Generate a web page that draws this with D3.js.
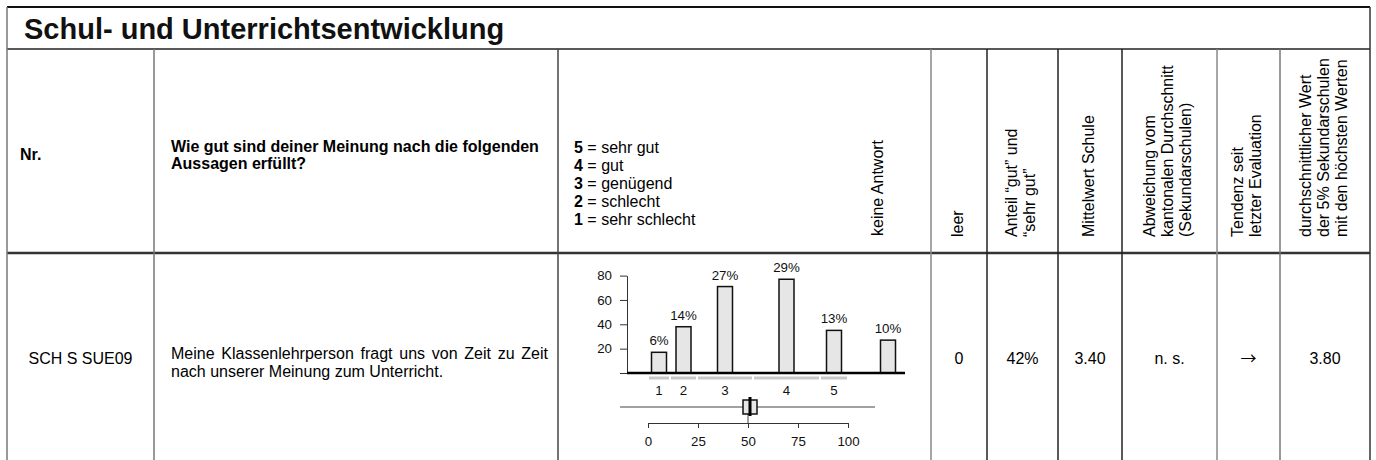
<!DOCTYPE html>
<html>
<head>
<meta charset="utf-8">
<script src="https://cdn.jsdelivr.net/npm/d3@7"></script>
<style>
  body { margin: 0; background: #fff; }
  svg { display: block; font-family: "Liberation Sans", Arial, sans-serif; }
</style>
</head>
<body>
<svg width="1376" height="460"></svg>
<script>
const title = "Schul- und Unterrichtsentwicklung";
const itemId = "SCH S SUE09";
const questionHead = ["Wie gut sind deiner Meinung nach die folgenden", "Aussagen erfüllt?"];
const itemText = ["Meine Klassenlehrperson fragt uns von Zeit zu Zeit", "nach unserer Meinung zum Unterricht."];
const scaleCodes = ["5", "4", "3", "2", "1"];
const scaleNames = ["sehr gut", "gut", "genügend", "schlecht", "sehr schlecht"];

// histogram
const categories = ["1", "2", "3", "4", "5"];
const counts = [17, 38, 71, 77, 35];
const percents = ["6%", "14%", "27%", "29%", "13%"];
const noAnswerLabel = "keine Antwort";
const noAnswerCount = 27;
const noAnswerPercent = "10%";
const cumShare = [0, 11, 24.5, 52.5, 86, 100];
const yTicks = [0, 20, 40, 60, 80];
const xTicks = [0, 25, 50, 75, 100];
const boxQ1 = 47.5, boxMedian = 51, boxQ3 = 54.5, meanMark = 50;

// stat columns
const statHeaders = [
  ["leer"],
  ["Anteil \u201cgut\u201d und", "\u201csehr gut\u201d"],
  ["Mittelwert Schule"],
  ["Abweichung vom", "kantonalen Durchschnitt", "(Sekundarschulen)"],
  ["Tendenz seit", "letzter Evaluation"],
  ["durchschnittlicher Wert", "der 5% Sekundarschulen", "mit den höchsten Werten"]
];
const statValues = ["0", "42%", "3.40", "n. s.", "\u2192", "3.80"];

const svg = d3.select("svg");
const W = 1376, H = 460;
const top0 = 7, titleY = 49, sepY = 253;
const colX = [7, 154, 558, 931, 987, 1058, 1122, 1217, 1280, 1370];
const colStroke = ["#777", "#777", "#444", "#888", "#222", "#222", "#222", "#888", "#777", "#333"];

svg.append("rect").attr("width", W).attr("height", H).attr("fill", "#fff");

// grid lines
svg.append("line").attr("x1", colX[0]).attr("x2", colX[9]).attr("y1", top0).attr("y2", top0)
  .attr("stroke", "#111").attr("stroke-width", 2);
svg.append("line").attr("x1", colX[0]).attr("x2", colX[9]).attr("y1", titleY).attr("y2", titleY)
  .attr("stroke", "#222").attr("stroke-width", 1.5);
svg.append("line").attr("x1", colX[0]).attr("x2", colX[9]).attr("y1", sepY).attr("y2", sepY)
  .attr("stroke", "#333").attr("stroke-width", 2.5);

svg.selectAll(".vline")
  .data(colX)
  .join("line")
  .attr("class", "vline")
  .attr("x1", d => d).attr("x2", d => d)
  .attr("y1", (d, i) => (i === 0 || i === 9) ? top0 : titleY)
  .attr("y2", H)
  .attr("stroke", (d, i) => colStroke[i])
  .attr("stroke-width", 1.5);

// title
svg.append("text")
  .attr("x", 24).attr("y", 39)
  .attr("font-size", 29).attr("font-weight", "bold")
  .attr("fill", "#111")
  .text(title);

// header row
svg.append("text").attr("x", 20).attr("y", 160)
  .attr("font-size", 16).attr("font-weight", "bold").text("Nr.");

svg.append("g").selectAll("text")
  .data(questionHead)
  .join("text")
  .attr("x", 171).attr("y", (d, i) => 152 + i * 17)
  .attr("font-size", 16).attr("font-weight", "bold")
  .text(d => d);

const legend = svg.append("g").selectAll("text")
  .data(scaleCodes)
  .join("text")
  .attr("x", 574).attr("y", (d, i) => 153 + i * 18)
  .attr("font-size", 16);
legend.append("tspan").attr("font-weight", "bold").text(d => d);
legend.append("tspan").text((d, i) => " = " + scaleNames[i]);

function rotatedHeader(lines, cx, bottom) {
  const g = svg.append("g").attr("transform", `translate(${cx},${bottom}) rotate(-90)`);
  g.selectAll("text")
    .data(lines)
    .join("text")
    .attr("x", 0)
    .attr("y", (d, i) => (i - (lines.length - 1) / 2) * 18 + 5.6)
    .attr("font-size", 16)
    .text(d => d);
}
rotatedHeader([noAnswerLabel], 877, 236);
statHeaders.forEach((lines, i) => {
  rotatedHeader(lines, (colX[i + 3] + colX[i + 4]) / 2 - 2, 237);
});

// body row
const rowY = 364;
svg.append("text").attr("x", (colX[0] + colX[1]) / 2).attr("y", rowY)
  .attr("text-anchor", "middle").attr("font-size", 16).text(itemId);

const itemLines = svg.append("g").selectAll("text")
  .data(itemText)
  .join("text")
  .attr("x", 171).attr("y", (d, i) => 359 + i * 18)
  .attr("font-size", 16)
  .text(d => d);
// justify first line
itemLines.filter((d, i) => i === 0).each(function(d) {
  const natural = this.getComputedTextLength();
  const gaps = d.split(" ").length - 1;
  d3.select(this).attr("word-spacing", (548 - 171 - natural) / gaps);
});

svg.append("g").selectAll("text")
  .data(statValues)
  .join("text")
  .attr("x", (d, i) => (colX[i + 3] + colX[i + 4]) / 2)
  .attr("y", rowY)
  .attr("text-anchor", "middle")
  .attr("font-size", 16)
  .attr("font-family", d => d === "\u2192" ? "'Noto Sans CJK JP', 'DejaVu Sans', sans-serif" : null)
  .text(d => d);

// histogram
const x = d3.scaleLinear().domain([0, 100]).range([648, 848]);
const y = d3.scaleLinear().domain([0, 80]).range([373, 275.6]);
const axisX = 627;
const barW = 15;
const mids = categories.map((c, i) => (cumShare[i] + cumShare[i + 1]) / 2);
const noAnswerX = x(100) + 40;

const chart = svg.append("g").attr("font-size", 13.3);

chart.append("g")
  .attr("transform", `translate(${axisX},0)`)
  .call(d3.axisLeft(y).tickValues(yTicks).tickSize(7).tickSizeOuter(0).tickPadding(8)
    .tickFormat(d => d === 0 ? "" : d))
  .call(g => g.selectAll("text").attr("font-size", 13.3).attr("font-family", null).attr("fill", "#111"))
  .call(g => g.selectAll("line,path").attr("stroke", "#333"));

const bars = categories.map((c, i) => ({ cx: x(mids[i]), v: counts[i], p: percents[i] }));
bars.push({ cx: noAnswerX, v: noAnswerCount, p: noAnswerPercent });

chart.selectAll(".bar")
  .data(bars)
  .join("rect")
  .attr("class", "bar")
  .attr("x", d => d.cx - barW / 2)
  .attr("width", barW)
  .attr("y", d => y(d.v))
  .attr("height", d => y(0) - y(d.v))
  .attr("fill", "#e6e6e6")
  .attr("stroke", "#111")
  .attr("stroke-width", 1.5);

chart.selectAll(".pct")
  .data(bars)
  .join("text")
  .attr("class", "pct")
  .attr("x", d => d.cx)
  .attr("y", d => y(d.v) - 7)
  .attr("text-anchor", "middle")
  .attr("fill", "#111")
  .text(d => d.p);

chart.append("line")
  .attr("x1", axisX).attr("x2", 905)
  .attr("y1", y(0)).attr("y2", y(0))
  .attr("stroke", "#000").attr("stroke-width", 2.5);

chart.selectAll(".seg")
  .data(categories)
  .join("line")
  .attr("class", "seg")
  .attr("x1", (d, i) => x(cumShare[i]) + 1)
  .attr("x2", (d, i) => x(cumShare[i + 1]) - 1)
  .attr("y1", 378).attr("y2", 378)
  .attr("stroke", "#c8c8c8").attr("stroke-width", 3);

chart.selectAll(".cat")
  .data(categories)
  .join("text")
  .attr("class", "cat")
  .attr("x", (d, i) => x(mids[i]))
  .attr("y", 395)
  .attr("text-anchor", "middle")
  .attr("fill", "#111")
  .text(d => d);

// box plot
const boxY = 407;
chart.append("line")
  .attr("x1", 620).attr("x2", 875).attr("y1", boxY).attr("y2", boxY)
  .attr("stroke", "#444").attr("stroke-width", 1);
chart.append("line")
  .attr("x1", x(meanMark)).attr("x2", x(meanMark)).attr("y1", boxY).attr("y2", 423)
  .attr("stroke", "#444").attr("stroke-width", 1);
chart.append("rect")
  .attr("x", x(boxQ1)).attr("width", x(boxQ3) - x(boxQ1))
  .attr("y", boxY - 7).attr("height", 14)
  .attr("fill", "#e6e6e6").attr("stroke", "#111").attr("stroke-width", 1.5);
chart.append("line")
  .attr("x1", x(boxMedian)).attr("x2", x(boxMedian)).attr("y1", boxY - 10).attr("y2", boxY + 9)
  .attr("stroke", "#000").attr("stroke-width", 3);

chart.append("g")
  .attr("transform", "translate(0,423)")
  .call(d3.axisBottom(x).tickValues(xTicks).tickSize(5).tickSizeOuter(0).tickPadding(9))
  .call(g => g.selectAll("text").attr("font-size", 13.3).attr("font-family", null).attr("fill", "#111"))
  .call(g => g.selectAll("line,path").attr("stroke", "#333"));
</script>
</body>
</html>
